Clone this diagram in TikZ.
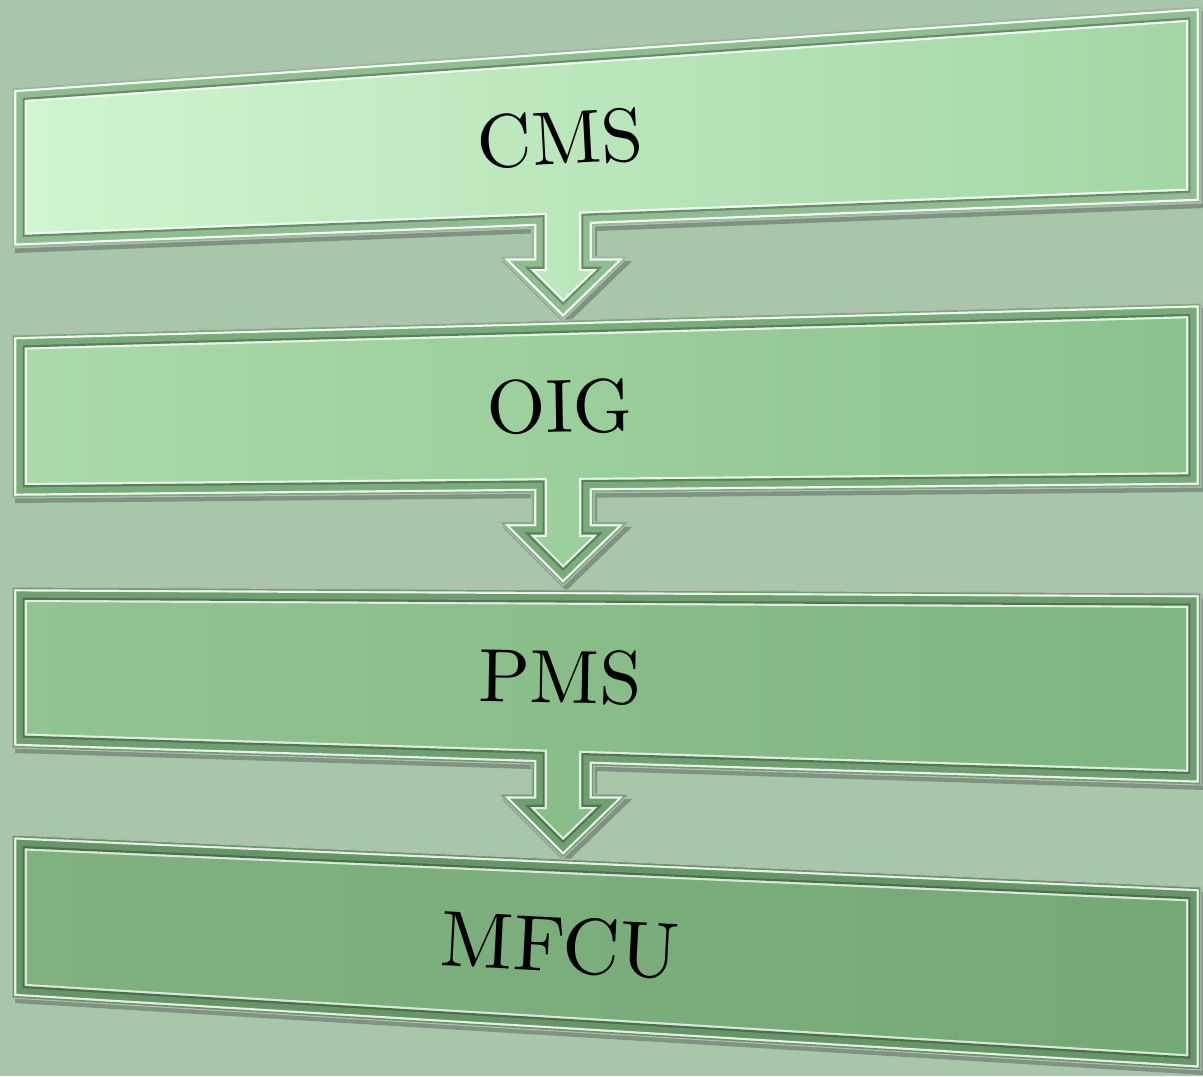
\documentclass[tikz,border=0pt]{standalone}
\usepackage{fontspec}
\usepackage{tikz}
\usetikzlibrary{calc}
\newfontfamily\bannerfont{lmroman10-regular.otf}
\definecolor{sage}{RGB}{169,198,171}
\definecolor{cmsL}{RGB}{208,245,208}
\definecolor{cmsR}{RGB}{162,214,165}
\definecolor{oigL}{RGB}{170,218,170}
\definecolor{oigR}{RGB}{138,194,140}
\definecolor{pmsL}{RGB}{146,196,146}
\definecolor{pmsR}{RGB}{126,181,128}
\definecolor{mfcuL}{RGB}{128,178,128}
\definecolor{mfcuR}{RGB}{116,169,118}
\tikzset{
  shadowfill/.style={fill=black,opacity=.25,transform canvas={shift={(3,5)}}},
  rimline/.style={draw=gray!55,line width=.6pt},
  bannertext/.style={inner sep=0pt,text=black}
}

\begin{document}
\begin{tikzpicture}[x=0.02cm,y=-0.02cm,line join=miter]
  \useasboundingbox (0,0) rectangle (1203,1076);
  \fill[sage] (0,0) rectangle (1203,1076);
  \foreach \n/\ta/\tb/\bb/\ba/\lc/\rc/\fs/\ang/\arr/\txt in {
      cms/88/6/203/248/cmsL/cmsR/43/3/1/CMS,
      oig/335/303/487/498/oigL/oigR/43/1/1/OIG,
      pms/587/593/785/748/pmsL/pmsR/43/-1/1/PMS,
      mfcu/835/887/1070/998/mfcuL/mfcuR/45/-3/0/MFCU}{
    \coordinate (\n-tl) at (12,\ta);
    \coordinate (\n-tr) at (1201,\tb);
    \coordinate (\n-br) at (1201,\bb);
    \coordinate (\n-bl) at (12,\ba);
    \coordinate (\n-sl) at ($(\n-bl)!0.4373!(\n-br)$);
    \coordinate (\n-sr) at ($(\n-bl)!0.4895!(\n-br)$);
    \coordinate (\n-c) at ($(\n-bl)!0.4634!(\n-br)$);
    \coordinate (\n-h) at ($(\n-c)+(0,29)$);
    \coordinate (\n-t) at ($(\n-c)+(0,93)$);
    \coordinate (\n-wl) at ($(\n-h)+(-64,0)$);
    \coordinate (\n-wr) at ($(\n-h)+(66,0)$);
    \coordinate (\n-mt) at ($(\n-tl)!0.461!(\n-tr)$);
    \coordinate (\n-mb) at ($(\n-bl)!0.461!(\n-br)$);
    \ifnum\arr=1
      \def\notch{-- (\n-sr) -- (\n-sr |- \n-h) -- (\n-wr) -- (\n-t) -- (\n-wl) -- (\n-sl |- \n-h) -- (\n-sl)}
    \else
      \def\notch{}
    \fi
    \def\outline{(\n-tl) -- (\n-tr) -- (\n-br) \notch -- (\n-bl) -- cycle}
    \fill[shadowfill] \outline;
    \begin{scope}
      \clip \outline;
      \fill[left color=\lc,right color=\rc] \outline;
      \draw[line width=17pt,white!70!\lc] \outline;
      \draw[line width=14.5pt,\rc!65!black] \outline;
      \draw[line width=12pt,\rc!88!black] \outline;
      \draw[line width=5pt,white!80!\lc] \outline;
      \draw[line width=2.5pt,\rc!88!black] \outline;
    \end{scope}
    \draw[rimline] \outline;
    \node[bannertext,font=\bannerfont\fontsize{\fs}{\fs}\selectfont,rotate=\ang] (\n) at ($(\n-mt)!0.5!(\n-mb)$) {\txt};
  }
\end{tikzpicture}
\end{document}
